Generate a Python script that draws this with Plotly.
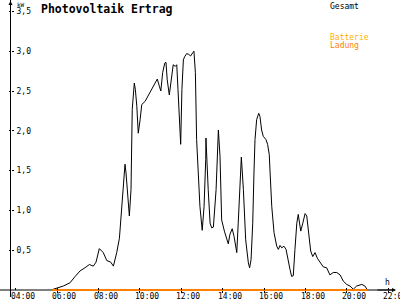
import plotly.graph_objects as go

# ---- data (hours of day, kW) ----
gesamt_h = [5.77, 5.82, 6.30, 6.62, 6.87, 7.11, 7.35, 7.56, 7.75, 7.88, 8.04, 8.23, 8.40, 8.59, 8.72,
            8.88, 9.01, 9.12, 9.23, 9.28, 9.33, 9.39, 9.49, 9.57, 9.60, 9.63, 9.73, 9.78, 9.85, 9.92,
            10.01, 10.09, 10.25, 10.49, 10.73, 10.84, 10.94, 11.01, 11.10, 11.20, 11.26, 11.32, 11.42,
            11.52, 11.61, 11.71, 11.78, 11.84, 11.90, 11.97, 12.03, 12.10, 12.16, 12.26, 12.36, 12.45,
            12.55, 12.61, 12.68, 12.74, 12.82, 12.90, 13.01, 13.10, 13.18, 13.19, 13.30, 13.39, 13.47,
            13.55, 13.68, 13.79, 13.87, 13.95, 14.08, 14.19, 14.27, 14.35, 14.46, 14.55, 14.68, 14.75,
            14.84, 14.90, 15.00, 15.11, 15.24, 15.30, 15.37, 15.45, 15.51, 15.56, 15.64, 15.74, 15.80,
            15.88, 15.96, 16.09, 16.17, 16.25, 16.29, 16.37, 16.48, 16.61, 16.69, 16.77, 16.85, 16.96,
            17.06, 17.12, 17.25, 17.33, 17.41, 17.49, 17.58, 17.65, 17.77, 17.87, 17.98, 18.06, 18.14,
            18.25, 18.35, 18.46, 18.57, 18.70, 18.86, 19.02, 19.18, 19.34, 19.51, 19.67, 19.83, 19.99,
            20.15, 20.31, 20.47, 20.72, 20.87, 20.99]
gesamt_kw = [0.00, 0.01, 0.05, 0.09, 0.17, 0.24, 0.28, 0.32, 0.30, 0.35, 0.52, 0.47, 0.37, 0.35, 0.30,
             0.47, 0.65, 1.05, 1.39, 1.58, 1.47, 1.26, 0.93, 1.26, 1.64, 2.27, 2.60, 2.52, 2.31, 1.97,
             2.14, 2.33, 2.37, 2.48, 2.60, 2.65, 2.56, 2.50, 2.73, 2.85, 2.86, 2.64, 2.45,
             2.64, 2.83, 2.81, 2.83, 2.52, 2.10, 1.83, 2.52, 2.89, 2.93, 2.97, 2.96, 2.94,
             2.98, 3.00, 2.73, 1.89, 1.47, 1.05, 0.75, 1.05, 1.64, 1.91, 1.26, 0.84, 0.78,
             0.79, 1.26, 2.01, 1.68, 0.88, 0.74, 0.63, 0.58, 0.70, 0.77, 0.67, 0.47, 0.84,
             1.39, 1.67, 1.26, 0.63, 0.34, 0.28, 0.38, 0.84, 1.47, 1.89, 2.14, 2.22, 2.18,
             2.01, 1.93, 1.89, 1.83, 1.70, 1.47, 1.05, 0.72, 0.55, 0.51, 0.56, 0.53, 0.55,
             0.51, 0.42, 0.26, 0.17, 0.18, 0.51, 0.84, 0.95, 0.74, 0.84, 0.96, 0.93, 0.76,
             0.49, 0.42, 0.47, 0.40, 0.35, 0.29, 0.28, 0.19, 0.22, 0.22, 0.19, 0.11, 0.07,
             0.05, 0.01, 0.05, 0.07, 0.05, 0.00]
ladung_h = [5.77, 21.0]
ladung_kw = [0.0, 0.0]

x_tickvals = [4, 6, 8, 10, 12, 14, 16, 18, 20, 22]
x_ticktext = ["04:00", "06:00", "08:00", "10:00", "12:00", "14:00", "16:00", "18:00", "20:00", "22:00"]
y_tickvals = [0.5, 1.0, 1.5, 2.0, 2.5, 3.0, 3.5]
y_ticktext = ["0,5", "1,0", "1,5", "2,0", "2,5", "3,0", "3,5"]

title_text = "Photovoltaik Ertrag"
legend_items = ["Gesamt", "Batterie", "Ladung"]
legend_colors = ["#000000", "#FFB000", "#FF8000"]

# ---- axis ranges chosen so the 400x300 canvas maps like the reference ----
XR = [3.2415, 22.565]
YR = [-0.1256, 3.6432]
MONO = "DejaVu Sans Mono"

fig = go.Figure()
fig.add_trace(go.Scatter(x=gesamt_h, y=gesamt_kw, mode="lines",
                         line=dict(color="#000000", width=1), hoverinfo="skip"))
fig.add_trace(go.Scatter(x=ladung_h, y=ladung_kw, mode="lines",
                         line=dict(color="#FF8000", width=2), hoverinfo="skip"))
# empty trace so overlay axes (for inward tick halves) are drawn
fig.add_trace(go.Scatter(x=[None], y=[None], xaxis="x2", yaxis="y2", hoverinfo="skip"))

axis_common = dict(showgrid=False, zeroline=False, showline=False, automargin=False)
fig.update_layout(
    width=400, height=300,
    margin=dict(l=0, r=0, t=0, b=0),
    paper_bgcolor="white", plot_bgcolor="white",
    showlegend=False,
    xaxis=dict(range=XR, anchor="free", position=10 / 300, tickvals=x_tickvals,
               ticks="outside", ticklen=2, tickcolor="black", tickwidth=1,
               showticklabels=False, **axis_common),
    yaxis=dict(range=YR, anchor="free", position=10.5 / 400, tickvals=y_tickvals, ticktext=y_ticktext,
               ticks="outside", ticklen=2, tickcolor="black", tickwidth=1,
               ticklabelposition="inside", ticklabelstandoff=2,
               tickfont=dict(family=MONO, size=8, color="black"), **axis_common),
    xaxis2=dict(range=XR, overlaying="x", anchor="free", position=10 / 300, tickvals=x_tickvals,
                ticks="inside", ticklen=2, tickcolor="black", showticklabels=False, **axis_common),
    yaxis2=dict(range=YR, overlaying="y", anchor="free", position=10.5 / 400, tickvals=y_tickvals,
                ticks="inside", ticklen=2, tickcolor="black", showticklabels=False, **axis_common),
)

# x tick labels, placed at their tick values (shifted right like the reference)
for tv, tt in zip(x_tickvals, x_ticktext):
    fig.add_annotation(xref="x", yref="paper", x=tv, y=(300 - 291) / 300, xanchor="center", yanchor="top",
                       xshift=7, text=tt, showarrow=False, borderpad=0,
                       font=dict(family=MONO, size=8, color="black"))

# axis lines (below traces)
fig.add_shape(type="line", xref="paper", yref="paper", x0=0, x1=392 / 400, y0=10 / 300, y1=10 / 300,
              line=dict(color="black", width=1), layer="below")
fig.add_shape(type="line", xref="paper", yref="paper", x0=10.5 / 400, x1=10.5 / 400, y0=3 / 300, y1=1,
              line=dict(color="black", width=1), layer="below")
# arrow heads
fig.add_annotation(xref="paper", yref="paper", x=396 / 400, y=10 / 300, ax=-20, ay=0, text="",
                   showarrow=True, arrowhead=2, arrowsize=0.8, arrowwidth=1, arrowcolor="black")
fig.add_annotation(xref="paper", yref="paper", x=10.5 / 400, y=1, ax=0, ay=20, text="",
                   showarrow=True, arrowhead=2, arrowsize=0.8, arrowwidth=1, arrowcolor="black")

# axis unit labels
fig.add_annotation(xref="paper", yref="paper", x=15 / 400, y=301 / 300, xanchor="left", yanchor="top",
                   text="kW", showarrow=False, font=dict(family=MONO, size=6, color="black"))
fig.add_annotation(xref="paper", yref="paper", x=383 / 400, y=(300 - 276) / 300, xanchor="left", yanchor="top",
                   text="h", showarrow=False, font=dict(family=MONO, size=8, color="black"))

# title
fig.add_annotation(xref="paper", yref="paper", x=39 / 400, y=1, xanchor="left", yanchor="top",
                   text="<b>" + title_text + "</b>", showarrow=False,
                   font=dict(family=MONO, size=11.5, color="black"))

# legend texts
legend_y = [0, 31, 39]
for txt, col, yy in zip(legend_items, legend_colors, legend_y):
    fig.add_annotation(xref="paper", yref="paper", x=328 / 400, y=(300 - yy) / 300,
                       xanchor="left", yanchor="top", text=txt, showarrow=False,
                       font=dict(family=MONO, size=8, color=col))

fig.write_html("out.html")
